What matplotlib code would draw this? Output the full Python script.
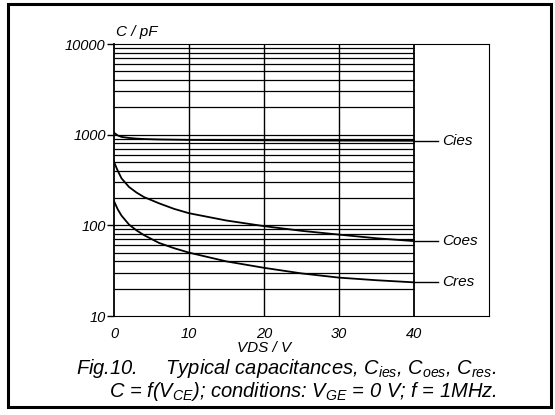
import numpy as np
import matplotlib
matplotlib.use("Agg")
from matplotlib import pyplot as plt
from matplotlib.patches import Rectangle

# curve data (VDS in V, C in pF)
vds = [0, 0.5, 1, 2, 3, 4, 6, 8, 10, 15, 20, 25, 30, 35, 40]
cies = [1050, 980, 945, 920, 905, 895, 885, 880, 875, 870, 866, 863, 860, 858, 856]
coes = [500, 400, 330, 265, 230, 205, 175, 152, 136, 113, 98, 87, 79, 72, 67]
cres = [185, 150, 128, 102, 88, 78, 64, 56, 50, 40, 34, 29.5, 26.5, 24.8, 23.5]

x_ticks = [0, 10, 20, 30, 40]
y_ticks = [10, 100, 1000, 10000]
curve_names = ["Cies", "Coes", "Cres"]

plt.rcParams['font.family'] = ['Liberation Sans', 'DejaVu Sans']
plt.rcParams['font.style'] = 'italic'
plt.rcParams['mathtext.fontset'] = 'custom'
plt.rcParams['mathtext.rm'] = 'Liberation Sans:italic'
plt.rcParams['mathtext.it'] = 'Liberation Sans:italic'

fig = plt.figure(figsize=(5.55, 4.15), dpi=100)
ax = fig.add_axes([114 / 555, 1 - 316 / 415, 375 / 555, 272 / 415])
ax.set_yscale('log')
ax.set_xlim(0, 50)
ax.set_ylim(10, 10000)

# horizontal grid only over 0..40 V
grid_vals = [m * 10 ** d for d in range(1, 4) for m in range(1, 10)][1:]
ax.hlines(grid_vals, 0, 40, color='black', lw=0.9)
ax.vlines([10, 20, 30], 10, 10000, color='black', lw=1.0)
ax.vlines(40, 10, 10000, color='black', lw=1.3)

for ys, name in zip([cies, coes, cres], curve_names):
    ax.plot(vds, ys, color='black', lw=1.3)
    ax.plot([40, 43.2], [ys[-1], ys[-1]], color='black', lw=1.0)
    ax.text(43.8, ys[-1], name, fontsize=11, va='center', ha='left')

ax.set_xticks(x_ticks)
ax.set_xticklabels([str(v) for v in x_ticks], fontsize=10.5)
ax.set_yticks(y_ticks)
ax.set_yticklabels([str(v) for v in y_ticks], fontsize=10.5)
ax.yaxis.set_minor_locator(matplotlib.ticker.NullLocator())
ax.tick_params(axis='y', length=5, width=1, direction='out', pad=1)
ax.tick_params(axis='x', length=0, pad=8)
for s in ax.spines.values():
    s.set_linewidth(0.8)
ax.spines['left'].set_linewidth(1.3)

ax.text(0.005, 1.044, 'C / pF', transform=ax.transAxes, fontsize=11,
        ha='left', va='center')
ax.text(20, -0.117, 'VDS / V', transform=ax.get_xaxis_transform(), fontsize=11,
        ha='center', va='center')

# two-line caption as one text block
caption = (r'Fig.10.     Typical capacitances, $C_{ies}$, $C_{oes}$, $C_{res}$.' + '\n'
           + r'C = f($V_{CE}$); conditions: $V_{GE}$ = 0 V; f = 1MHz.')
fig.text(497 / 555, 1 - 380 / 415, caption, fontsize=14.5, ha='right', va='center',
         multialignment='right', linespacing=0.95)

# outer frame
fig.patches.append(Rectangle((8 / 555, 1 - 407 / 415), 543 / 555, 403 / 415,
                             transform=fig.transFigure, fill=False, lw=2.2, color='black'))

fig.savefig('out.png', dpi=100)
